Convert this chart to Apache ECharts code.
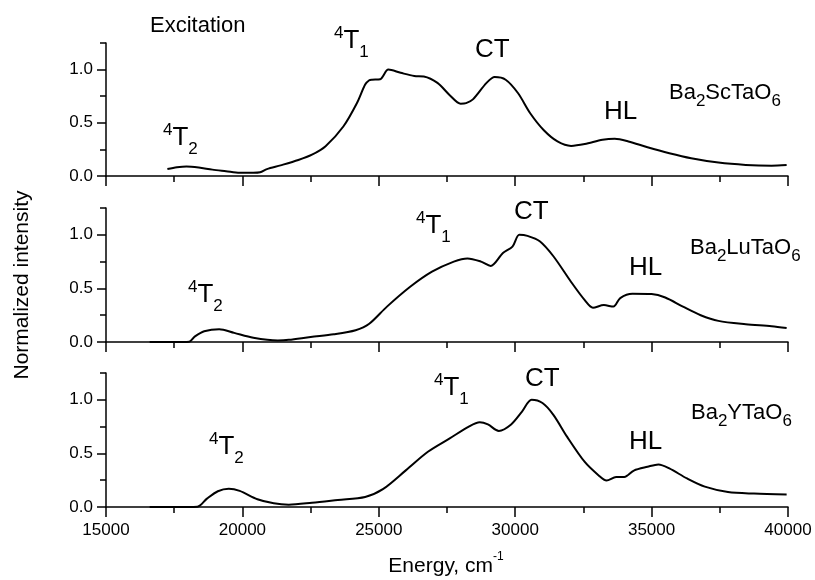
<!DOCTYPE html>
<html>
<head>
<meta charset="utf-8">
<script src="https://cdn.jsdelivr.net/npm/echarts@6/dist/echarts.min.js"></script>
<style>
html,body{margin:0;padding:0;background:#fff;}
#chart{width:815px;height:580px;}
</style>
</head>
<body>
<div id="chart"></div>
<script>
// ---- Data ----
const scEnergy = [17250,17600,17950,18400,18900,19400,19900,20400,20650,20900,21400,22050,22550,23050,23700,24200,24500,24650,24750,25050,25350,25800,26300,26650,27150,27600,28000,28200,28450,28950,29250,29650,30100,30550,31050,31550,32050,32550,33200,33650,34150,34850,35650,36450,37450,38450,39400,39950];
const scIntensity = [0.065,0.082,0.09,0.08,0.06,0.045,0.03,0.03,0.035,0.065,0.10,0.15,0.20,0.28,0.465,0.686,0.86,0.90,0.905,0.91,1.0,0.97,0.94,0.935,0.875,0.76,0.68,0.685,0.72,0.875,0.93,0.905,0.78,0.59,0.43,0.325,0.283,0.30,0.34,0.35,0.325,0.27,0.214,0.167,0.126,0.104,0.097,0.103];

const luEnergy = [16600,17500,18050,18250,18600,19150,19700,20400,21300,21700,22500,23350,24150,24650,25300,26150,26950,27750,28250,28750,29100,29550,29900,30150,30450,30900,31400,32050,32550,32850,33250,33600,33850,34300,35000,35500,36150,36800,37450,38450,39400,39950];
const luIntensity = [0,0,0.003,0.05,0.10,0.12,0.085,0.04,0.015,0.02,0.047,0.072,0.11,0.17,0.33,0.515,0.656,0.75,0.78,0.75,0.71,0.83,0.89,1.0,0.99,0.94,0.80,0.56,0.39,0.32,0.344,0.33,0.41,0.45,0.447,0.415,0.33,0.25,0.197,0.166,0.147,0.13];

const yEnergy = [16600,17500,18350,18700,19100,19500,19900,20550,21150,21700,22550,23500,24500,25150,26000,26800,27600,28300,28700,29000,29400,29850,30250,30600,31000,31400,31900,32550,33050,33350,33700,34000,34350,34850,35250,35650,36300,36950,37800,38750,39950];
const yIntensity = [0,0,0.003,0.078,0.147,0.17,0.15,0.072,0.034,0.022,0.04,0.066,0.094,0.166,0.344,0.515,0.64,0.75,0.79,0.77,0.71,0.77,0.89,1.0,0.97,0.86,0.656,0.42,0.297,0.247,0.28,0.28,0.34,0.375,0.397,0.36,0.266,0.19,0.14,0.125,0.116];

const xTicks = {min: 15000, max: 40000, interval: 5000};
const yTicks = {min: 0, max: 1.25, major: 0.5, minor: 0.25};

// ---- Chart ----
const FONT = '"Liberation Sans", Arial, sans-serif';
const chart = echarts.init(document.getElementById('chart'), null, {renderer: 'canvas'});

const grids = [
  {left: 106, right: 27, top: 43, height: 133},
  {left: 106, right: 27, top: 208, height: 134},
  {left: 106, right: 27, top: 373, height: 134}
];

const blackLine = {color: '#000', width: 1.5};

const xAxes = grids.map((g, i) => ({
  type: 'value', gridIndex: i, min: xTicks.min, max: xTicks.max, interval: xTicks.interval,
  axisLine: {show: true, onZero: false, lineStyle: blackLine},
  axisTick: {show: true, inside: false, length: 10, lineStyle: blackLine},
  minorTick: {show: true, splitNumber: 2, length: 6, lineStyle: blackLine},
  splitLine: {show: false}, minorSplitLine: {show: false},
  axisLabel: {show: i === 2, color: '#000', fontSize: 17, fontFamily: FONT, margin: 15,
    formatter: v => String(v)}
}));

const yAxes = [];
grids.forEach((g, i) => {
  yAxes.push({
    type: 'value', gridIndex: i, position: 'left', min: yTicks.min, max: yTicks.max, interval: yTicks.major,
    axisLine: {show: true, onZero: false, lineStyle: blackLine},
    axisTick: {show: true, inside: false, length: 9, lineStyle: blackLine},
    splitLine: {show: false},
    axisLabel: {color: '#000', fontSize: 17, fontFamily: FONT, margin: 13, showMaxLabel: false,
      formatter: v => v.toFixed(1)}
  });
  yAxes.push({
    type: 'value', gridIndex: i, position: 'left', offset: 0, min: yTicks.min, max: yTicks.max, interval: yTicks.minor,
    axisLine: {show: false, onZero: false},
    axisTick: {show: true, inside: false, length: 6, lineStyle: blackLine},
    splitLine: {show: false},
    axisLabel: {show: false}
  });
});

function pairs(xs, ys) { return xs.map((x, k) => [x, ys[k]]); }
const seriesData = [pairs(scEnergy, scIntensity), pairs(luEnergy, luIntensity), pairs(yEnergy, yIntensity)];

const series = seriesData.map((d, i) => ({
  type: 'line', xAxisIndex: i, yAxisIndex: 2 * i, data: d,
  showSymbol: false, smooth: 0.3, lineStyle: {color: '#000', width: 2}, silent: true
}));

const rich = {
  big: {fontSize: 26, lineHeight: 40, verticalAlign: 'middle', fontFamily: FONT, color: '#000'},
  sup: {fontSize: 17, lineHeight: 17, verticalAlign: 'top', padding: [4, 0, 0, 0], fontFamily: FONT, color: '#000'},
  sub: {fontSize: 17, lineHeight: 17, verticalAlign: 'bottom', fontFamily: FONT, color: '#000'},
  f: {fontSize: 22, lineHeight: 34, verticalAlign: 'middle', fontFamily: FONT, color: '#000'},
  fs: {fontSize: 17, lineHeight: 17, verticalAlign: 'bottom', fontFamily: FONT, color: '#000'},
  n: {fontSize: 21, lineHeight: 30, verticalAlign: 'middle', fontFamily: FONT, color: '#000'},
  ex: {fontSize: 22, lineHeight: 30, verticalAlign: 'middle', fontFamily: FONT, color: '#000'},
  ns: {fontSize: 12, lineHeight: 12, verticalAlign: 'top', fontFamily: FONT, color: '#000'}
};

function txt(x, y, text, align) {
  return {type: 'text', x: x, y: y, silent: true,
    style: {text: text, rich: rich, align: align || 'left', verticalAlign: 'middle', fill: '#000'}};
}

const graphic = [
  txt(150, 26, '{ex|Excitation}'),
  // panel 1
  txt(334, 41, '{sup|4}{big|T}{sub|1}'),
  txt(475, 50, '{big|CT}'),
  txt(604, 112, '{big|HL}'),
  txt(669, 93, '{f|Ba}{fs|2}{f|ScTaO}{fs|6}'),
  txt(163, 138, '{sup|4}{big|T}{sub|2}'),
  // panel 2
  txt(188, 295, '{sup|4}{big|T}{sub|2}'),
  txt(416, 226, '{sup|4}{big|T}{sub|1}'),
  txt(514, 212, '{big|CT}'),
  txt(629, 268, '{big|HL}'),
  txt(690, 248, '{f|Ba}{fs|2}{f|LuTaO}{fs|6}'),
  // panel 3
  txt(209, 447, '{sup|4}{big|T}{sub|2}'),
  txt(434, 388, '{sup|4}{big|T}{sub|1}'),
  txt(525, 379, '{big|CT}'),
  txt(629, 442, '{big|HL}'),
  txt(691, 413, '{f|Ba}{fs|2}{f|YTaO}{fs|6}'),
  // axis names
  txt(446, 566, '{n|Energy, cm}{ns|-1}', 'center'),
  {type: 'text', x: 22, y: 285, rotation: Math.PI / 2, silent: true,
    style: {text: 'Normalized intensity', font: '21px ' + FONT, fill: '#000', align: 'center', verticalAlign: 'middle'}}
];

chart.setOption({
  animation: false,
  backgroundColor: '#fff',
  grid: grids,
  xAxis: xAxes,
  yAxis: yAxes,
  series: series,
  graphic: graphic
});
</script>
</body>
</html>
